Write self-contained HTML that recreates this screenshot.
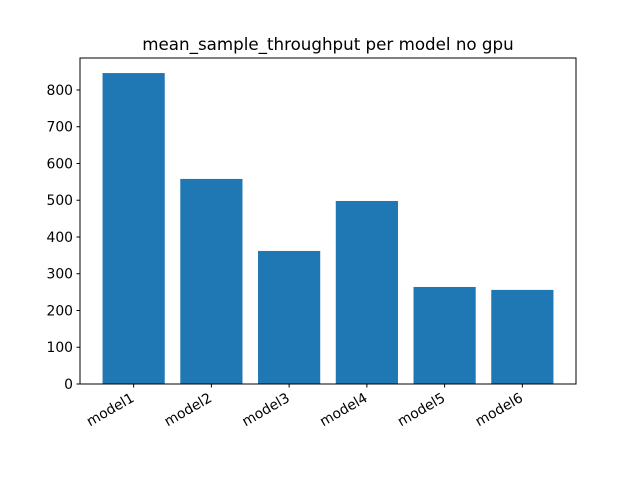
<!DOCTYPE html>
<html><head><meta charset="utf-8"><style>body{margin:0;background:#fff}svg{font-family:"DejaVu Sans","Liberation Sans",sans-serif}</style></head>
<body>
<svg id="chart" width="640" height="480" xmlns="http://www.w3.org/2000/svg">
<rect width="640" height="480" fill="#fff"/>
<text x="328" y="50" font-size="16.7" text-anchor="middle">mean_sample_throughput per model no gpu</text>
<g id="bars"></g><g id="yticks"></g><g id="xticks"></g>
<rect x="80" y="58" width="496" height="326" fill="none" stroke="#000" stroke-width="1"/>
</svg>
<script>
const categories = ["model1","model2","model3","model4","model5","model6"];
const values = [846, 558, 362, 498, 264, 256];
const yTicks = [0,100,200,300,400,500,600,700,800];
const L=80,R=576,T=58,B=384;
const xmin=-0.69,xmax=5.69,ymax=887;
const xs=v=>L+(v-xmin)/(xmax-xmin)*(R-L);
const ys=v=>B-v/ymax*(B-T);
const ns="http://www.w3.org/2000/svg";
const mk=(t,a,p)=>{const e=document.createElementNS(ns,t);for(const k in a)e.setAttribute(k,a[k]);p.appendChild(e);return e;};
const gb=document.getElementById('bars'),gy=document.getElementById('yticks'),gx=document.getElementById('xticks');
categories.forEach((c,i)=>{
 const r=mk('rect',{x:xs(i-0.4),y:ys(values[i]),width:xs(i+0.4)-xs(i-0.4),height:ys(0)-ys(values[i]),fill:'#1f77b4'},gb);
 
 
 const x=xs(i);
 const tk=mk('line',{x1:x,x2:x,y1:B,y2:B+3.5,stroke:'#000'},gx);
 
 
 const t=mk('text',{x:0,y:11,'font-size':13.9,'text-anchor':'end',transform:`translate(${x-4} ${B+7}) rotate(-30)`},gx);
 t.textContent=c;
 
 
});
yTicks.forEach(v=>{
 const y=ys(v);
 const tk=mk('line',{x1:L-3.5,x2:L,y1:y,y2:y,stroke:'#000'},gy);
 
 
 const t=mk('text',{x:L-7,y:y+5,'font-size':13.9,'text-anchor':'end'},gy);
 t.textContent=v;
 
 
});
</script>
</body></html>
